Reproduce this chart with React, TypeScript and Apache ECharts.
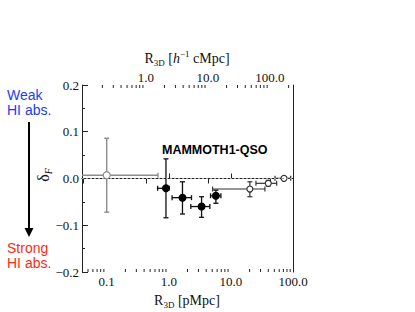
import React, { useEffect, useRef } from 'react';
import * as echarts from 'echarts';

const SERIF = '"Liberation Serif", "DejaVu Serif", serif';
const SANS = 'Arial, "Liberation Sans", Helvetica, sans-serif';

// axes
const xMin = 0.04;
const xMax = 100;
const comovingFactor = 2.35; // h^-1 cMpc per pMpc
const yMin = -0.2;
const yMax = 0.2;
const yStep = 0.1;
const bottomMinorTicks = [0.05, 0.06, 0.07, 0.08, 0.09, 0.2, 0.3, 0.4, 0.5, 0.6, 0.7, 0.8, 0.9, 2, 3, 4, 5, 6, 7, 8, 9, 20, 30, 40, 50, 60, 70, 80, 90];
const topMinorTicks = [0.2, 0.3, 0.4, 0.5, 0.6, 0.7, 0.8, 0.9, 2, 3, 4, 5, 6, 7, 8, 9, 20, 30, 40, 50, 60, 70, 80, 90, 200];

// open grey point (small separation)
const greyR = [0.1];
const greyDelta = [0.007];
const greyRLo = [0.01];
const greyRHi = [0.67];
const greyDLo = [-0.072];
const greyDHi = [0.086];

// filled points (MAMMOTH1-QSO)
const filledR = [0.9, 1.66, 3.37, 5.73];
const filledDelta = [-0.021, -0.041, -0.06, -0.037];
const filledRLo = [0.66, 1.13, 2.26, 4.7];
const filledRHi = [1.01, 2.32, 4.58, 6.9];
const filledDLo = [-0.084, -0.076, -0.083, -0.053];
const filledDHi = [0.042, -0.007, -0.039, -0.025];

// open points (large separation)
const openR = [20.2, 40, 71.6];
const openDelta = [-0.0225, -0.0103, 0.0004];
const openRLo = [5.07, 25.3, 51.3];
const openRHi = [35.3, 54.6, 91.8];
const openDLo = [-0.039, -0.016, -0.002];
const openDHi = [-0.007, -0.004, 0.002];

function rows(r: number[], d: number[], rl: number[], rh: number[], dl: number[], dh: number[]) {
  return r.map((v, i) => [v, d[i], rl[i], rh[i], dl[i], dh[i]]);
}

function errorBarSeries(data: number[][], color: string, width: number) {
  return {
    type: 'custom',
    xAxisIndex: 0,
    yAxisIndex: 0,
    clip: true,
    z: 3,
    data,
    renderItem: (params: any, api: any) => {
      const x = api.value(0), y = api.value(1);
      const a = api.coord([api.value(2), y]);
      const b = api.coord([api.value(3), y]);
      const c = api.coord([x, api.value(4)]);
      const d = api.coord([x, api.value(5)]);
      const cap = 2.5;
      const st = { stroke: color, lineWidth: width };
      return {
        type: 'group',
        children: [
          { type: 'line', shape: { x1: a[0], y1: a[1], x2: b[0], y2: b[1] }, style: st },
          { type: 'line', shape: { x1: a[0], y1: a[1] - cap, x2: a[0], y2: a[1] + cap }, style: st },
          { type: 'line', shape: { x1: b[0], y1: b[1] - cap, x2: b[0], y2: b[1] + cap }, style: st },
          { type: 'line', shape: { x1: c[0], y1: c[1], x2: d[0], y2: d[1] }, style: st },
          { type: 'line', shape: { x1: c[0] - cap, y1: c[1], x2: c[0] + cap, y2: c[1] }, style: st },
          { type: 'line', shape: { x1: d[0] - cap, y1: d[1], x2: d[0] + cap, y2: d[1] }, style: st },
        ],
      };
    },
  };
}

function minorTickSeries(values: number[], xAxisIndex: number, atY: number, dir: number) {
  return {
    type: 'custom',
    xAxisIndex,
    yAxisIndex: 0,
    clip: false,
    z: 5,
    silent: true,
    data: values.map((v) => [v, atY]),
    renderItem: (params: any, api: any) => {
      const p = api.coord([api.value(0), api.value(1)]);
      return {
        type: 'line',
        shape: { x1: p[0], y1: p[1], x2: p[0], y2: p[1] + dir * 3 },
        style: { stroke: '#222', lineWidth: 1 },
      };
    },
  };
}

const fmtX = (v: number) => (v < 0.095 ? '' : v.toFixed(1));
const fmtTop = (v: number) => (v < 0.5 || v > 150 ? '' : v.toFixed(1));
const fmtY = (v: number) => (Math.abs(v) < 1e-9 ? '0.0' : v.toFixed(1).replace('-', '\u2212'));

export default function App() {
  const ref = useRef<HTMLDivElement>(null);
  useEffect(() => {
    if (!ref.current) return;
    const chart = echarts.init(ref.current, undefined, { renderer: 'svg' });
    const axisLine = { show: true, lineStyle: { color: '#222', width: 1 } };
    const labelStyle = { color: '#111', fontFamily: SERIF, fontSize: 13 };
    chart.setOption({
      animation: false,
      backgroundColor: '#fff',
      grid: { left: 82, top: 85, width: 211, height: 187, containLabel: false },
      xAxis: [
        {
          type: 'log', logBase: 10, position: 'bottom', min: xMin, max: xMax,
          axisLine, splitLine: { show: false },
          axisTick: { show: true, inside: true, length: 5, lineStyle: { color: '#222' } },
          axisLabel: { ...labelStyle, margin: 3, showMinLabel: false, formatter: fmtX },
        },
        {
          type: 'log', logBase: 10, position: 'top', min: xMin * comovingFactor, max: xMax * comovingFactor,
          axisLine, splitLine: { show: false },
          axisTick: { show: true, inside: true, length: 5, lineStyle: { color: '#222' } },
          axisLabel: { ...labelStyle, margin: 1, showMinLabel: false, showMaxLabel: false, formatter: fmtTop },
        },
      ],
      yAxis: [
        {
          type: 'value', position: 'left', min: yMin, max: yMax, interval: yStep,
          axisLine, splitLine: { show: false },
          axisTick: { show: true, inside: true, length: 6, lineStyle: { color: '#222' } },
          minorTick: { show: true, splitNumber: 2, length: 3, lineStyle: { color: '#222' } },
          axisLabel: { ...labelStyle, margin: 3, formatter: fmtY },
        },
        {
          type: 'value', position: 'right', min: yMin, max: yMax, interval: yStep,
          axisLine, splitLine: { show: false }, axisTick: { show: false }, axisLabel: { show: false },
        },
      ],
      series: [
        {
          type: 'line', xAxisIndex: 0, yAxisIndex: 0, data: [], silent: true,
          markLine: {
            symbol: 'none', silent: true, label: { show: false },
            lineStyle: { type: [2, 2], color: '#a0a0a0', width: 1 },
            data: [{ yAxis: 0 }],
          },
        },
        minorTickSeries(bottomMinorTicks, 0, yMin, -1),
        minorTickSeries(topMinorTicks, 1, yMax, 1),
        errorBarSeries(rows(greyR, greyDelta, greyRLo, greyRHi, greyDLo, greyDHi), '#8c8c8c', 1.4),
        errorBarSeries(rows(filledR, filledDelta, filledRLo, filledRHi, filledDLo, filledDHi), '#111', 1.3),
        errorBarSeries(rows(openR, openDelta, openRLo, openRHi, openDLo, openDHi), '#333', 1.2),
        {
          type: 'scatter', xAxisIndex: 0, yAxisIndex: 0, z: 4, symbol: 'circle', symbolSize: 7,
          itemStyle: { color: '#fff', borderColor: '#8c8c8c', borderWidth: 1.2, opacity: 1 },
          data: greyR.map((r, i) => [r, greyDelta[i]]),
        },
        {
          type: 'scatter', xAxisIndex: 0, yAxisIndex: 0, z: 4, symbol: 'circle', symbolSize: 8,
          itemStyle: { color: '#000', opacity: 1 },
          data: filledR.map((r, i) => [r, filledDelta[i]]),
        },
        {
          type: 'scatter', xAxisIndex: 0, yAxisIndex: 0, z: 4, symbol: 'circle', symbolSize: 6,
          itemStyle: { color: '#fff', borderColor: '#333', borderWidth: 1.2, opacity: 1 },
          data: openR.map((r, i) => [r, openDelta[i]]),
        },
      ],
      graphic: [
        {
          type: 'text', x: 162, y: 150, z: 10,
          style: { text: 'MAMMOTH1-QSO', fontFamily: SANS, fontWeight: 'bold', fontSize: 12.5, fill: '#000', verticalAlign: 'middle' },
        },
        {
          type: 'text', x: 7, y: 88, z: 10,
          style: { text: 'Weak\nHI abs.', fontFamily: SANS, fontSize: 14, lineHeight: 14.5, fill: '#1a3cf6', verticalAlign: 'top' },
        },
        {
          type: 'text', x: 7, y: 241, z: 10,
          style: { text: 'Strong\nHI abs.', fontFamily: SANS, fontSize: 14, lineHeight: 14.5, fill: '#ff2a14', verticalAlign: 'top' },
        },
        {
          type: 'line', z: 10,
          shape: { x1: 29, y1: 122, x2: 29, y2: 230 },
          style: { stroke: '#000', lineWidth: 2 },
        },
        {
          type: 'polygon', z: 10,
          shape: { points: [[24.5, 228], [33.5, 228], [29, 237]] },
          style: { fill: '#000' },
        },
        {
          type: 'text', x: 187, y: 300, z: 10,
          style: {
            text: '{r|R}{s|3D}{r| [pMpc]}', align: 'center', verticalAlign: 'middle',
            rich: {
              r: { fontFamily: SERIF, fontSize: 14, lineHeight: 18, fill: '#111' },
              s: { fontFamily: SERIF, fontSize: 9, lineHeight: 10, verticalAlign: 'bottom', fill: '#111' },
            },
          },
        },
        {
          type: 'text', x: 187, y: 58, z: 10,
          style: {
            text: '{r|R}{s|3D}{r| [}{i|h}{p|\u22121}{r| cMpc]}', align: 'center', verticalAlign: 'middle',
            rich: {
              r: { fontFamily: SERIF, fontSize: 14, lineHeight: 18, fill: '#111' },
              i: { fontFamily: SERIF, fontStyle: 'italic', fontSize: 14, lineHeight: 18, fill: '#111' },
              s: { fontFamily: SERIF, fontSize: 9, lineHeight: 10, verticalAlign: 'bottom', fill: '#111' },
              p: { fontFamily: SERIF, fontSize: 9, lineHeight: 10, verticalAlign: 'top', fill: '#111' },
            },
          },
        },
        {
          type: 'text', x: 43, y: 175, rotation: Math.PI / 2, z: 10,
          style: {
            text: '{d|\u03b4}{f|F}', align: 'center', verticalAlign: 'middle',
            rich: {
              d: { fontFamily: SERIF, fontSize: 16, lineHeight: 20, fill: '#111' },
              f: { fontFamily: SERIF, fontStyle: 'italic', fontSize: 10, lineHeight: 11, verticalAlign: 'bottom', fill: '#111' },
            },
          },
        },
      ],
    });
    return () => chart.dispose();
  }, []);
  return <div ref={ref} style={{ position: 'fixed', left: 0, top: 0, width: 415, height: 312 }} />;
}
